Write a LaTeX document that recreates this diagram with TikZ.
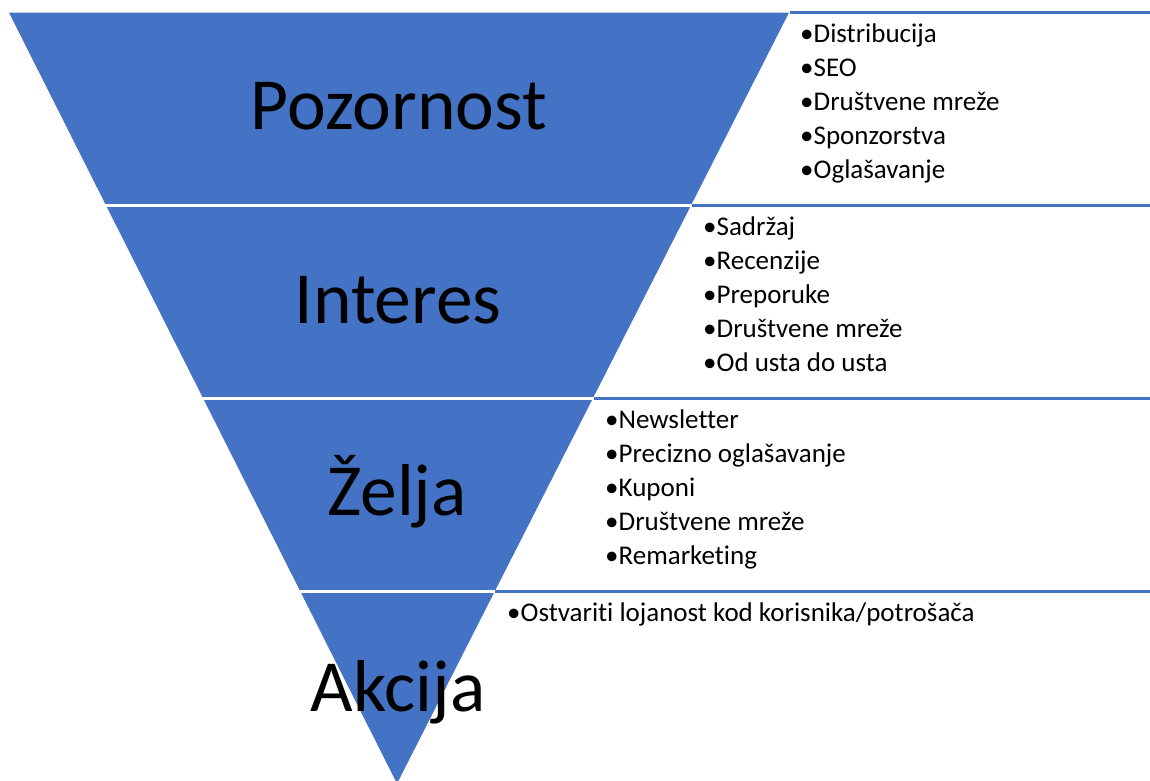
\documentclass[tikz,border=0pt]{standalone}
\usepackage{fontspec}
\setmainfont{Carlito}[Ligatures={NoCommon}]
\usetikzlibrary{calc}
\definecolor{fblue}{HTML}{4472C4}
\tikzset{
  band/.style={fill=fblue, draw=white, line width=1pt},
  sepwhite/.style={draw=white, line width=3pt},
  sepblue/.style={draw=fblue, line width=3pt},
  biglabel/.style={font=\fontsize{73.5}{88}\selectfont, anchor=base, inner sep=0pt, text=black},
  item/.style={font=\fontsize{27}{34}\selectfont, anchor=base west, inner sep=0pt, text=black}
}
\begin{document}
\begin{tikzpicture}[x=1pt,y=-1pt]
\useasboundingbox (0,0) rectangle (1150,780);
\coordinate (TL) at (8,12);
\coordinate (TR) at (790,12);
\coordinate (A) at (397,785);
\foreach \i/\f in {1/0.25,2/0.5,3/0.75}{
  \coordinate (L\i) at ($(TL)!\f!(A)$);
  \coordinate (R\i) at ($(TR)!\f!(A)$);
}
\coordinate (E0) at (1150,12);
\coordinate (E1) at (1150,0 |- R1);
\coordinate (E2) at (1150,0 |- R2);
\coordinate (E3) at (1150,0 |- R3);
% bands
\fill[band] (TL) -- (TR) -- (R1) -- (L1) -- cycle;
\fill[band] (L1) -- (R1) -- (R2) -- (L2) -- cycle;
\fill[band] (L2) -- (R2) -- (R3) -- (L3) -- cycle;
\fill[band] (L3) -- (R3) -- (A) -- cycle;
\draw[sepwhite] (L1) -- (R1);
\draw[sepwhite] (L2) -- (R2);
\draw[sepwhite] (L3) -- (R3);
% blue lines on right
\draw[sepblue] (TR) -- (E0);
\draw[sepblue] (R1) -- (E1);
\draw[sepblue] (R2) -- (E2);
\draw[sepblue] (R3) -- (E3);
% big labels
\node[biglabel] (poz) at (399,129) {Pozornost};
\node[biglabel] (int) at (398,323) {Interes};
\node[biglabel] (zel) at (397,515) {Želja};
\node[biglabel] (akc) at (398,711) {Akcija};
% bullets
\foreach \t [count=\k] in {Distribucija,SEO,Društvene mreže,Sponzorstva,Oglašavanje}{
  \node[item] (a\k) at (800,{42+34*(\k-1)}) {•\t};
}
\foreach \t [count=\k] in {Sadržaj,Recenzije,Preporuke,Društvene mreže,Od usta do usta}{
  \node[item] (b\k) at (703,{235+34*(\k-1)}) {•\t};
}
\foreach \t [count=\k] in {Newsletter,Precizno oglašavanje,Kuponi,Društvene mreže,Remarketing}{
  \node[item] (c\k) at (605,{428+34*(\k-1)}) {•\t};
}
\node[item] (d1) at (507,621) {•Ostvariti lojanost kod korisnika/potrošača};
\end{tikzpicture}
\end{document}
